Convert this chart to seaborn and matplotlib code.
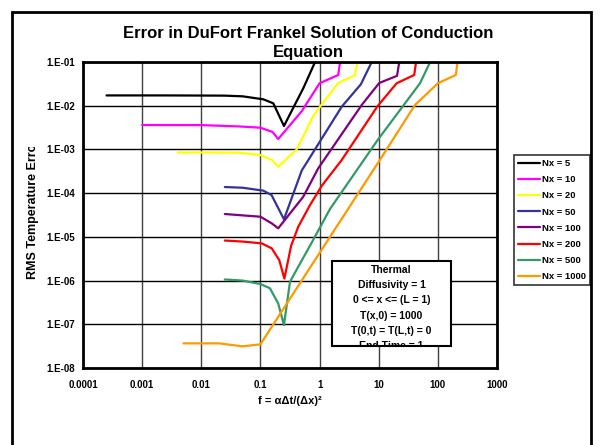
import numpy as np
import pandas as pd
import matplotlib
matplotlib.use("Agg")
import matplotlib.pyplot as plt
import seaborn as sns
from matplotlib.patches import Rectangle
from matplotlib.lines import Line2D
from matplotlib.transforms import Bbox
from matplotlib.ticker import FixedLocator, FixedFormatter, NullLocator

# ---------------- data ----------------
labels = ["Nx = 5", "Nx = 10", "Nx = 20", "Nx = 50", "Nx = 100", "Nx = 200", "Nx = 500", "Nx = 1000"]
colors = ["#000000", "#FF00FF", "#FFFF00", "#333399", "#800080", "#FF0000", "#339966", "#FF9900"]

f_nx5 = [2.5e-4, 2.5e-3, 0.025, 0.05, 0.112, 0.165, 0.25, 0.53, 1.0]
e_nx5 = [0.0172, 0.0172, 0.0170, 0.0164, 0.0140, 0.01135, 0.00344, 0.0250, 0.17]

f_nx10 = [0.001, 0.01, 0.045, 0.1, 0.16, 0.2, 0.5, 1.0, 2.07, 2.37]
e_nx10 = [0.00362, 0.0036, 0.00335, 0.00314, 0.00251, 0.00173, 0.0075, 0.0326, 0.0505, 0.19]

f_nx20 = [0.004, 0.01, 0.045, 0.1, 0.16, 0.2, 0.41, 0.78, 1.0, 2.07, 3.97, 4.75]
e_nx20 = [0.00085, 0.00085, 0.00084, 0.000745, 0.000564, 0.000403, 0.00099, 0.00582, 0.0092, 0.0331, 0.0497, 0.192]

f_nx50 = [0.025, 0.05, 0.112, 0.154, 0.25, 0.5, 2.37, 5.0, 9.4]
e_nx50 = [0.000138, 0.000133, 0.000114, 0.0000906, 2.52e-5, 0.00033, 0.0095, 0.031, 0.18]

f_nx100 = [0.025, 0.05, 0.1, 0.155, 0.2, 0.53, 0.95, 5.16, 10.2, 20.4, 24.2]
e_nx100 = [3.33e-5, 3.1e-5, 2.89e-5, 2.04e-5, 1.57e-5, 8.28e-5, 0.00037, 0.0104, 0.0331, 0.0483, 0.2]

f_nx200 = [0.025, 0.05, 0.105, 0.155, 0.208, 0.254, 0.331, 0.436, 0.69, 1.1, 2.37, 9.55, 20.1, 39.8, 45.8]
e_nx200 = [8.24e-6, 7.8e-6, 7.1e-6, 5.47e-6, 2.95e-6, 1.11e-6, 6.3e-6, 1.7e-5, 5.35e-5, 0.00015, 0.000573, 0.00975, 0.0326, 0.0505, 0.19]

f_nx500 = [0.025, 0.05, 0.1, 0.145, 0.2, 0.25, 0.316, 0.436, 0.78, 1.5, 9.8, 49.9, 89.5]
e_nx500 = [1.06e-6, 1.0e-6, 8.34e-7, 6.65e-7, 2.98e-7, 9.6e-8, 9.4e-7, 2.07e-6, 8.5e-6, 4.34e-5, 0.00171, 0.0326, 0.171]

f_nx1000 = [0.005, 0.02, 0.05, 0.1, 1.5, 9.8, 41.1, 100, 201, 230]
e_nx1000 = [3.66e-8, 3.66e-8, 3.13e-8, 3.48e-8, 1.0e-5, 5.0e-4, 0.0104, 0.0326, 0.0505, 0.19]

x_ticks = [1e-4, 1e-3, 1e-2, 1e-1, 1, 10, 100, 1000]
x_tick_labels = ["0.0001", "0.001", "0.01", "0.1", "1", "10", "100", "1000"]
y_ticks = [1e-8, 1e-7, 1e-6, 1e-5, 1e-4, 1e-3, 1e-2, 1e-1]
y_tick_labels = ["1.E-08", "1.E-07", "1.E-06", "1.E-05", "1.E-04", "1.E-03", "1.E-02", "1.E-01"]

title_lines = ["Error in DuFort Frankel Solution of Conduction", "Equation"]
xlabel_text = "f = \u03b1\u0394t/(\u0394x)\u00b2"
ylabel_text = "RMS Temperature Error"
box_lines = ["Thermal", "Diffusivity = 1", "0 <= x <= (L = 1)", "T(x,0) = 1000",
             "T(0,t) = T(L,t) = 0", "End Time = 1"]

series_f = [f_nx5, f_nx10, f_nx20, f_nx50, f_nx100, f_nx200, f_nx500, f_nx1000]
series_e = [e_nx5, e_nx10, e_nx20, e_nx50, e_nx100, e_nx200, e_nx500, e_nx1000]

rows = []
for lab, fs, es in zip(labels, series_f, series_e):
    for i, (fv, ev) in enumerate(zip(fs, es)):
        rows.append({"f": fv, "err": ev, "series": lab, "order": i})
df = pd.DataFrame(rows)

# ---------------- figure ----------------
sns.set_theme(style="white")
plt.rcParams["font.family"] = ["Liberation Sans", "DejaVu Sans"]
plt.rcParams["font.weight"] = "bold"
plt.rcParams["text.color"] = "black"
plt.rcParams["axes.labelcolor"] = "black"
plt.rcParams["xtick.color"] = "black"
plt.rcParams["ytick.color"] = "black"

W, H = 602, 445
fig = plt.figure(figsize=(W / 100, H / 100), dpi=100)
fig.patch.set_facecolor("white")

def fx(x):
    return x / W

def fy(y):
    return 1 - y / H

ax = fig.add_axes([fx(83), fy(368), (497 - 83) / W, (368 - 62) / H])
ax.set_facecolor("white")

sns.lineplot(data=df, x="f", y="err", hue="series", hue_order=labels,
             palette=colors, sort=False, estimator=None, units="series",
             linewidth=1.6, legend=False, ax=ax)

ax.set_xscale("log")
ax.set_yscale("log")
ax.set_xlim(1e-4, 1e3)
ax.set_ylim(1e-8, 1e-1)

ax.xaxis.set_major_locator(FixedLocator(x_ticks))
ax.xaxis.set_major_formatter(FixedFormatter(x_tick_labels))
ax.xaxis.set_minor_locator(NullLocator())
ax.yaxis.set_major_locator(FixedLocator(y_ticks))
ax.yaxis.set_major_formatter(FixedFormatter(y_tick_labels))
ax.yaxis.set_minor_locator(NullLocator())

ax.tick_params(axis="both", which="major", length=0, labelsize=7, colors="black")
ax.tick_params(axis="x", pad=9)
ax.tick_params(axis="y", pad=6)
for lbl in ax.get_xticklabels() + ax.get_yticklabels():
    lbl.set_fontweight("bold")
    lbl.set_color("black")

ax.grid(True, axis="x", color="#404040", linewidth=1.0)
ax.grid(True, axis="y", color="#000000", linewidth=1.0)
ax.set_axisbelow(True)
for sp in ax.spines.values():
    sp.set_visible(True)
    sp.set_color("black")
    sp.set_linewidth(2.0)

ax.set_xlabel("")
ax.set_ylabel("")

# title
fig.text(fx(308), fy(33), title_lines[0], ha="center", va="center",
         fontsize=12, fontweight="bold", color="black")
fig.text(fx(308), fy(53), title_lines[1], ha="center", va="center",
         fontsize=12, fontweight="bold", color="black")

# x label
fig.text(fx(290), fy(401), xlabel_text, ha="center", va="center",
         fontsize=8, fontweight="bold", color="black")

# y label (clipped at the top as in the reference)
yl = fig.text(fx(33), fy(279), ylabel_text, rotation=90, rotation_mode="anchor",
              ha="left", va="center", fontsize=9, fontweight="bold", color="black")
yl.set_clip_box(Bbox.from_extents(0, 0, W, H - 147))
yl.set_clip_on(True)

# legend
handles = [Line2D([0], [0], color=c, lw=1.6) for c in colors]
leg = fig.legend(handles, labels, loc="upper left",
                 bbox_to_anchor=(fx(514), fy(155)), bbox_transform=fig.transFigure,
                 frameon=True, fancybox=False, edgecolor="black",
                 prop={"size": 6.8, "weight": "bold"}, handlelength=2.3,
                 labelspacing=0.76, borderpad=0.42, handletextpad=0.25,
                 borderaxespad=0)
leg.get_frame().set_linewidth(1.2)
for t in leg.get_texts():
    t.set_color("black")

# text box
box = Rectangle((fx(332), fy(346)), (451 - 332) / W, (346 - 261) / H,
                transform=fig.transFigure, facecolor="white", edgecolor="black",
                linewidth=1.5, zorder=10)
fig.add_artist(box)
clip_rect = Rectangle((fx(332), fy(346)), (451 - 332) / W, (346 - 261) / H,
                      transform=fig.transFigure, fill=False, lw=0)
ys = [270, 285, 300, 316, 331, 346]
for t, yv in zip(box_lines, ys):
    tx = fig.text(fx(391.5), fy(yv), t, ha="center", va="center",
                  fontsize=7.5, fontweight="bold", color="black", zorder=11)
    tx.set_clip_path(clip_rect)

# outer chart border
border = Rectangle((fx(12), -0.05), (591 - 12) / W, fy(12) + 0.05,
                   transform=fig.transFigure, fill=False, edgecolor="black",
                   linewidth=2.0, zorder=0)
fig.add_artist(border)

fig.savefig("out.png", dpi=100, facecolor="white")
